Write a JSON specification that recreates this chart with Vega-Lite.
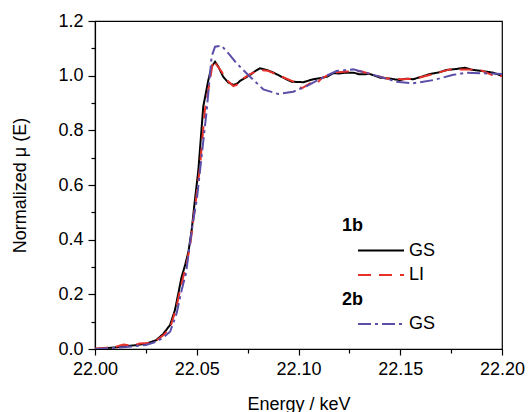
{
  "$schema": "https://vega.github.io/schema/vega-lite/v6.json",
  "width": 407,
  "height": 328,
  "autosize": {"type": "none"},
  "padding": {"left": 95, "top": 21, "right": 27, "bottom": 63},
  "config": {
    "font": "Liberation Sans",
    "view": {"stroke": "black", "strokeWidth": 1.2},
    "axis": {"grid": false, "domainColor": "black", "domainWidth": 1.2, "tickColor": "black", "tickWidth": 1.2, "labelColor": "black", "titleColor": "black", "labelFont": "Liberation Sans", "titleFont": "Liberation Sans", "labelFontSize": 18, "titleFontSize": 18, "titleFontWeight": "normal"},
    "legend": {
      "orient": "none", "legendX": 258, "legendY": 196, "title": null,
      "symbolType": "M-1,0H10.5", "symbolSize": 64, "symbolStrokeWidth": 2,
      "labelFontSize": 18, "labelFont": "Liberation Sans", "labelColor": "black", "labelOffset": 38, "rowPadding": 6.5
    }
  },
  "datasets": {
    "curves": [
      {"E": 22.000, "mu": 0.000, "s": "1b|GS"},
      {"E": 22.005, "mu": 0.003, "s": "1b|GS"},
      {"E": 22.010, "mu": 0.006, "s": "1b|GS"},
      {"E": 22.015, "mu": 0.010, "s": "1b|GS"},
      {"E": 22.020, "mu": 0.014, "s": "1b|GS"},
      {"E": 22.025, "mu": 0.019, "s": "1b|GS"},
      {"E": 22.030, "mu": 0.032, "s": "1b|GS"},
      {"E": 22.0335, "mu": 0.055, "s": "1b|GS"},
      {"E": 22.0369, "mu": 0.088, "s": "1b|GS"},
      {"E": 22.0393, "mu": 0.143, "s": "1b|GS"},
      {"E": 22.0410, "mu": 0.205, "s": "1b|GS"},
      {"E": 22.0425, "mu": 0.262, "s": "1b|GS"},
      {"E": 22.0442, "mu": 0.305, "s": "1b|GS"},
      {"E": 22.0459, "mu": 0.355, "s": "1b|GS"},
      {"E": 22.0475, "mu": 0.435, "s": "1b|GS"},
      {"E": 22.0491, "mu": 0.545, "s": "1b|GS"},
      {"E": 22.0508, "mu": 0.655, "s": "1b|GS"},
      {"E": 22.0532, "mu": 0.887, "s": "1b|GS"},
      {"E": 22.0557, "mu": 0.984, "s": "1b|GS"},
      {"E": 22.0573, "mu": 1.033, "s": "1b|GS"},
      {"E": 22.0590, "mu": 1.051, "s": "1b|GS"},
      {"E": 22.0606, "mu": 1.033, "s": "1b|GS"},
      {"E": 22.0630, "mu": 0.996, "s": "1b|GS"},
      {"E": 22.0655, "mu": 0.975, "s": "1b|GS"},
      {"E": 22.0680, "mu": 0.966, "s": "1b|GS"},
      {"E": 22.0700, "mu": 0.972, "s": "1b|GS"},
      {"E": 22.0713, "mu": 0.981, "s": "1b|GS"},
      {"E": 22.0740, "mu": 0.993, "s": "1b|GS"},
      {"E": 22.0762, "mu": 1.003, "s": "1b|GS"},
      {"E": 22.0790, "mu": 1.018, "s": "1b|GS"},
      {"E": 22.0810, "mu": 1.027, "s": "1b|GS"},
      {"E": 22.0844, "mu": 1.021, "s": "1b|GS"},
      {"E": 22.0880, "mu": 1.010, "s": "1b|GS"},
      {"E": 22.0909, "mu": 0.999, "s": "1b|GS"},
      {"E": 22.0940, "mu": 0.987, "s": "1b|GS"},
      {"E": 22.0966, "mu": 0.978, "s": "1b|GS"},
      {"E": 22.0995, "mu": 0.977, "s": "1b|GS"},
      {"E": 22.1024, "mu": 0.976, "s": "1b|GS"},
      {"E": 22.1050, "mu": 0.982, "s": "1b|GS"},
      {"E": 22.1073, "mu": 0.987, "s": "1b|GS"},
      {"E": 22.1100, "mu": 0.990, "s": "1b|GS"},
      {"E": 22.1139, "mu": 0.996, "s": "1b|GS"},
      {"E": 22.1170, "mu": 1.009, "s": "1b|GS"},
      {"E": 22.1200, "mu": 1.008, "s": "1b|GS"},
      {"E": 22.1230, "mu": 1.011, "s": "1b|GS"},
      {"E": 22.1270, "mu": 1.011, "s": "1b|GS"},
      {"E": 22.1300, "mu": 1.005, "s": "1b|GS"},
      {"E": 22.1351, "mu": 1.006, "s": "1b|GS"},
      {"E": 22.1400, "mu": 0.993, "s": "1b|GS"},
      {"E": 22.1450, "mu": 0.989, "s": "1b|GS"},
      {"E": 22.1499, "mu": 0.984, "s": "1b|GS"},
      {"E": 22.1530, "mu": 0.989, "s": "1b|GS"},
      {"E": 22.1564, "mu": 0.987, "s": "1b|GS"},
      {"E": 22.1600, "mu": 0.995, "s": "1b|GS"},
      {"E": 22.1646, "mu": 1.006, "s": "1b|GS"},
      {"E": 22.1690, "mu": 1.012, "s": "1b|GS"},
      {"E": 22.1728, "mu": 1.021, "s": "1b|GS"},
      {"E": 22.1770, "mu": 1.024, "s": "1b|GS"},
      {"E": 22.1818, "mu": 1.029, "s": "1b|GS"},
      {"E": 22.1850, "mu": 1.022, "s": "1b|GS"},
      {"E": 22.1892, "mu": 1.018, "s": "1b|GS"},
      {"E": 22.1957, "mu": 1.011, "s": "1b|GS"},
      {"E": 22.2000, "mu": 0.999, "s": "1b|GS"},

      {"E": 22.000, "mu": 0.002, "s": "1b|LI"},
      {"E": 22.005, "mu": 0.004, "s": "1b|LI"},
      {"E": 22.010, "mu": 0.008, "s": "1b|LI"},
      {"E": 22.014, "mu": 0.016, "s": "1b|LI"},
      {"E": 22.018, "mu": 0.012, "s": "1b|LI"},
      {"E": 22.022, "mu": 0.020, "s": "1b|LI"},
      {"E": 22.026, "mu": 0.022, "s": "1b|LI"},
      {"E": 22.030, "mu": 0.030, "s": "1b|LI"},
      {"E": 22.0335, "mu": 0.050, "s": "1b|LI"},
      {"E": 22.0369, "mu": 0.076, "s": "1b|LI"},
      {"E": 22.0401, "mu": 0.155, "s": "1b|LI"},
      {"E": 22.0418, "mu": 0.216, "s": "1b|LI"},
      {"E": 22.0450, "mu": 0.313, "s": "1b|LI"},
      {"E": 22.0467, "mu": 0.374, "s": "1b|LI"},
      {"E": 22.0483, "mu": 0.472, "s": "1b|LI"},
      {"E": 22.0496, "mu": 0.545, "s": "1b|LI"},
      {"E": 22.0516, "mu": 0.667, "s": "1b|LI"},
      {"E": 22.0540, "mu": 0.874, "s": "1b|LI"},
      {"E": 22.0565, "mu": 0.984, "s": "1b|LI"},
      {"E": 22.0581, "mu": 1.057, "s": "1b|LI"},
      {"E": 22.0598, "mu": 1.039, "s": "1b|LI"},
      {"E": 22.0622, "mu": 1.015, "s": "1b|LI"},
      {"E": 22.0647, "mu": 0.984, "s": "1b|LI"},
      {"E": 22.0680, "mu": 0.962, "s": "1b|LI"},
      {"E": 22.0696, "mu": 0.966, "s": "1b|LI"},
      {"E": 22.0730, "mu": 0.990, "s": "1b|LI"},
      {"E": 22.0762, "mu": 1.006, "s": "1b|LI"},
      {"E": 22.0810, "mu": 1.021, "s": "1b|LI"},
      {"E": 22.0850, "mu": 1.018, "s": "1b|LI"},
      {"E": 22.0909, "mu": 0.999, "s": "1b|LI"},
      {"E": 22.0975, "mu": 0.978, "s": "1b|LI"},
      {"E": 22.1016, "mu": 0.954, "s": "1b|LI"},
      {"E": 22.1057, "mu": 0.972, "s": "1b|LI"},
      {"E": 22.1081, "mu": 0.966, "s": "1b|LI"},
      {"E": 22.1114, "mu": 0.990, "s": "1b|LI"},
      {"E": 22.1170, "mu": 1.011, "s": "1b|LI"},
      {"E": 22.1237, "mu": 1.015, "s": "1b|LI"},
      {"E": 22.1302, "mu": 1.017, "s": "1b|LI"},
      {"E": 22.1368, "mu": 1.003, "s": "1b|LI"},
      {"E": 22.1433, "mu": 0.990, "s": "1b|LI"},
      {"E": 22.1515, "mu": 0.987, "s": "1b|LI"},
      {"E": 22.1580, "mu": 0.990, "s": "1b|LI"},
      {"E": 22.1663, "mu": 1.006, "s": "1b|LI"},
      {"E": 22.1744, "mu": 1.023, "s": "1b|LI"},
      {"E": 22.1827, "mu": 1.023, "s": "1b|LI"},
      {"E": 22.1892, "mu": 1.021, "s": "1b|LI"},
      {"E": 22.1949, "mu": 1.003, "s": "1b|LI"},
      {"E": 22.1966, "mu": 0.996, "s": "1b|LI"},
      {"E": 22.2000, "mu": 0.999, "s": "1b|LI"},

      {"E": 22.000, "mu": 0.000, "s": "2b|GS"},
      {"E": 22.005, "mu": 0.002, "s": "2b|GS"},
      {"E": 22.010, "mu": 0.004, "s": "2b|GS"},
      {"E": 22.015, "mu": 0.007, "s": "2b|GS"},
      {"E": 22.020, "mu": 0.011, "s": "2b|GS"},
      {"E": 22.025, "mu": 0.015, "s": "2b|GS"},
      {"E": 22.030, "mu": 0.026, "s": "2b|GS"},
      {"E": 22.0335, "mu": 0.042, "s": "2b|GS"},
      {"E": 22.0369, "mu": 0.063, "s": "2b|GS"},
      {"E": 22.0401, "mu": 0.130, "s": "2b|GS"},
      {"E": 22.0426, "mu": 0.216, "s": "2b|GS"},
      {"E": 22.0447, "mu": 0.277, "s": "2b|GS"},
      {"E": 22.0467, "mu": 0.387, "s": "2b|GS"},
      {"E": 22.0483, "mu": 0.472, "s": "2b|GS"},
      {"E": 22.0500, "mu": 0.545, "s": "2b|GS"},
      {"E": 22.0549, "mu": 0.874, "s": "2b|GS"},
      {"E": 22.0573, "mu": 1.070, "s": "2b|GS"},
      {"E": 22.0590, "mu": 1.106, "s": "2b|GS"},
      {"E": 22.0622, "mu": 1.110, "s": "2b|GS"},
      {"E": 22.0660, "mu": 1.078, "s": "2b|GS"},
      {"E": 22.0696, "mu": 1.045, "s": "2b|GS"},
      {"E": 22.0762, "mu": 0.996, "s": "2b|GS"},
      {"E": 22.0827, "mu": 0.950, "s": "2b|GS"},
      {"E": 22.0900, "mu": 0.933, "s": "2b|GS"},
      {"E": 22.0974, "mu": 0.941, "s": "2b|GS"},
      {"E": 22.1040, "mu": 0.962, "s": "2b|GS"},
      {"E": 22.1122, "mu": 0.994, "s": "2b|GS"},
      {"E": 22.1187, "mu": 1.017, "s": "2b|GS"},
      {"E": 22.1269, "mu": 1.023, "s": "2b|GS"},
      {"E": 22.1368, "mu": 1.003, "s": "2b|GS"},
      {"E": 22.1482, "mu": 0.978, "s": "2b|GS"},
      {"E": 22.1564, "mu": 0.972, "s": "2b|GS"},
      {"E": 22.1663, "mu": 0.984, "s": "2b|GS"},
      {"E": 22.1761, "mu": 1.003, "s": "2b|GS"},
      {"E": 22.1827, "mu": 1.011, "s": "2b|GS"},
      {"E": 22.2000, "mu": 1.006, "s": "2b|GS"}
    ]
  },
  "data": {"name": "curves"},
  "resolve": {"axis": {"x": "independent", "y": "independent"}},
  "layer": [
    {
      "mark": {"type": "line", "strokeWidth": 2, "clip": true},
      "encoding": {
        "x": {"field": "E", "type": "quantitative", "scale": {"domain": [22.0, 22.2], "nice": false, "zero": false},
          "axis": {"orient": "bottom", "values": [22.0, 22.05, 22.1, 22.15, 22.2], "format": ".2f", "tickSize": 6, "labelPadding": 5, "title": "Energy / keV", "titlePadding": 17, "labelFlush": false}},
        "y": {"field": "mu", "type": "quantitative", "scale": {"domain": [0, 1.2], "nice": false, "zero": false},
          "axis": {"orient": "left", "values": [0, 0.2, 0.4, 0.6, 0.8, 1.0, 1.2], "format": ".1f", "tickSize": 7, "labelPadding": 5, "title": "Normalized μ (E)", "titlePadding": 28, "labelFlush": false}},
        "color": {"field": "s", "type": "nominal",
          "scale": {"domain": ["1b", "1b|GS", "1b|LI", "2b", "2b|GS"], "range": ["transparent", "#000000", "#e8302a", "transparent", "#5b4ea8"]},
          "legend": {
            "labelExpr": "indexof(datum.label,'|') >= 0 ? substring(datum.label, indexof(datum.label,'|') + 1) : datum.label",
            "encode": {"labels": {"update": {
              "fontWeight": {"signal": "indexof(datum.value,'|') < 0 ? 'bold' : 'normal'"},
              "dx": {"signal": "indexof(datum.value,'|') < 0 ? -67 : 0"}
            }}}
          }},
        "strokeDash": {"field": "s", "type": "nominal",
          "scale": {"domain": ["1b", "1b|GS", "1b|LI", "2b", "2b|GS"], "range": [[1, 0], [1, 0], [13, 8], [1, 0], [13, 4, 3, 4]]},
          "legend": {
            "labelExpr": "indexof(datum.label,'|') >= 0 ? substring(datum.label, indexof(datum.label,'|') + 1) : datum.label",
            "encode": {"labels": {"update": {
              "fontWeight": {"signal": "indexof(datum.value,'|') < 0 ? 'bold' : 'normal'"},
              "dx": {"signal": "indexof(datum.value,'|') < 0 ? -67 : 0"}
            }}}
          }}
      }
    },
    {
      "mark": {"type": "line", "strokeOpacity": 0},
      "encoding": {
        "x": {"field": "E", "type": "quantitative", "scale": {"domain": [22.0, 22.2], "nice": false, "zero": false},
          "axis": {"orient": "bottom", "values": [22.025, 22.075, 22.125, 22.175], "tickSize": 4, "labels": false, "domain": false, "title": null}},
        "y": {"field": "mu", "type": "quantitative", "scale": {"domain": [0, 1.2], "nice": false, "zero": false},
          "axis": {"orient": "left", "values": [0.1, 0.3, 0.5, 0.7, 0.9, 1.1], "tickSize": 4, "labels": false, "domain": false, "title": null}},
        "detail": {"field": "s", "type": "nominal"}
      }
    }
  ]
}
